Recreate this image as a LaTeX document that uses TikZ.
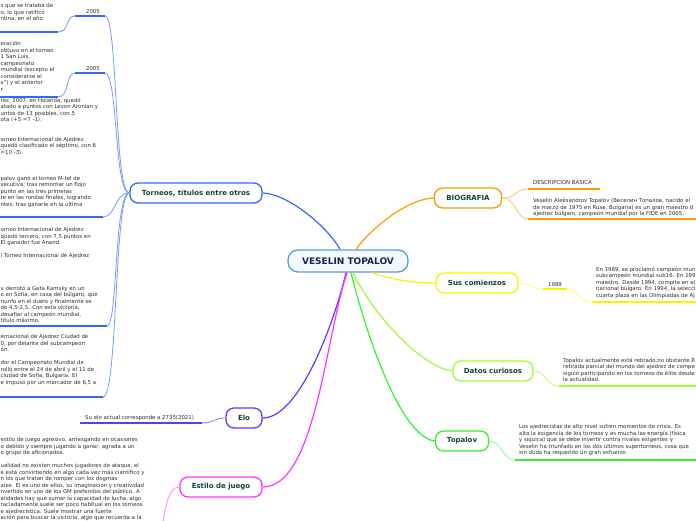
\documentclass[tikz,border=0pt]{standalone}
\usepackage{fontspec}
\setmainfont{DejaVu Sans}
\definecolor{vtborde}{HTML}{5B9BD5}
\definecolor{vtfondo}{HTML}{F3F8FD}
\definecolor{vttexto}{HTML}{17264A}
\definecolor{titulo}{HTML}{0E4436}
\definecolor{gris}{HTML}{2E2E2E}
\definecolor{torcol}{HTML}{3366FF}
\definecolor{torhilo}{HTML}{7799FF}
\definecolor{biocol}{HTML}{FF9900}
\definecolor{biohilo}{HTML}{FFC266}
\definecolor{suscol}{HTML}{F5F500}
\definecolor{sushilo}{HTML}{FFFF66}
\definecolor{datcol}{HTML}{99FF33}
\definecolor{dathilo}{HTML}{BBFF77}
\definecolor{topcol}{HTML}{33EE33}
\definecolor{tophilo}{HTML}{88FF88}
\definecolor{elocol}{HTML}{6633FF}
\definecolor{elohilo}{HTML}{9977FF}
\definecolor{estcol}{HTML}{FF33FF}
\definecolor{esthilo}{HTML}{FF88FF}
\begin{document}
\begin{tikzpicture}[x=1pt,y=-1pt,
  tema/.style={draw,line width=1.3pt,rounded corners=8pt,fill=white,
    minimum height=20pt,inner sep=0pt,text=titulo,
    font=\fontsize{7}{8}\selectfont\bfseries},
  texto/.style={inner sep=0pt,align=left,anchor=north west,text=gris,
    font=\fontsize{5.4}{6.5}\selectfont},
  rama/.style={line width=1.2pt},
  hilo/.style={line width=0.8pt},
  raya/.style={line width=2pt}]

\useasboundingbox (0,0) rectangle (696,520);

\node[tema,draw=vtborde,fill=vtfondo,minimum width=120pt,minimum height=22pt,
  rounded corners=10pt,text=vttexto,font=\fontsize{9}{10}\selectfont\bfseries]
  (vt) at (348,261) {VESELIN TOPALOV};

\node[tema,draw=torcol,minimum width=132pt] (tor) at (196,193) {Torneos, títulos entre otros};
\node[tema,draw=biocol,minimum width=67pt] (bio) at (468,198) {BIOGRAFIA};
\node[tema,draw=suscol,minimum width=82pt] (sus) at (477,283) {Sus comienzos};
\node[tema,draw=datcol,minimum width=80pt] (dat) at (493,371) {Datos curiosos};
\node[tema,draw=topcol,minimum width=53pt] (top) at (462,441) {Topalov};
\node[tema,draw=elocol,minimum width=36pt] (elo) at (244,418) {Elo};
\node[tema,draw=estcol,minimum width=82pt] (est) at (221,487) {Estilo de juego};

\draw[rama,torcol] ([xshift=-8pt]vt.north) .. controls (330,230) and (290,194) .. (tor.east);
\draw[rama,biocol] ([xshift=8pt]vt.north) .. controls (368,232) and (405,199) .. (bio.west);
\draw[rama,suscol] ([xshift=25pt]vt.south) .. controls (388,279) and (412,283) .. (sus.west);
\draw[rama,datcol] ([xshift=5pt]vt.south) .. controls (370,310) and (420,367) .. (dat.west);
\draw[rama,topcol] ([xshift=3pt]vt.south) .. controls (365,330) and (400,437) .. (top.west);
\draw[rama,elocol] ([xshift=-2pt]vt.south) .. controls (335,320) and (300,418) .. (elo.east);
\draw[rama,estcol] ([xshift=-1pt]vt.south) .. controls (325,340) and (315,487) .. (est.east);

% biografia
\coordinate (bio1) at (528,189);
\coordinate (bio1f) at (600,189);
\coordinate (bio2) at (528,219);
\coordinate (bio2f) at (700,219);
\draw[hilo,biohilo] (bio.east) .. controls (516,198) and (516,189) .. (bio1);
\draw[hilo,biohilo] (bio.east) .. controls (516,198) and (516,219) .. (bio2);
\draw[raya,biocol] (bio1) -- (bio1f);
\draw[raya,biocol] (bio2) -- (bio2f);
\node[texto] (bio1t) at (533,180.5) {DESCRIPCION BASICA};
\node[texto] (bio2t) at (533,198.3) {Veselin Aleksandrov Topalov (Веселин Топалов, nacido el\\
de marzo de 1975 en Ruse, Bulgaria) es un gran maestro d\\
ajedrez búlgaro, campeón mundial por la FIDE en 2005.};

% sus comienzos
\coordinate (sus1) at (543,289);
\coordinate (sus1f) at (567,289);
\coordinate (sus2) at (592,302);
\coordinate (sus2f) at (700,302);
\draw[hilo,sushilo] (sus.east) .. controls (531,283) and (530,289) .. (sus1);
\draw[raya,suscol] (sus1) -- (sus1f);
\node[texto,anchor=south] (sus1t) at (555,287) {1989};
\draw[hilo,sushilo] (sus1f) .. controls (580,289) and (578,302) .. (sus2);
\draw[raya,suscol] (sus2) -- (sus2f);
\node[texto] (sus2t) at (596,266.5) {En 1989, se proclamó campeón mun\\
subcampeón mundial sub16. En 199\\
maestro. Desde 1994, compite en el\\
nacional búlgaro. En 1994, la selecci\\
cuarta plaza en las Olimpiadas de Aj};

% datos curiosos
\coordinate (dat1) at (559,386);
\coordinate (dat1f) at (700,386);
\draw[hilo,dathilo] (dat.east) .. controls (546,371) and (546,386) .. (dat1);
\draw[raya,datcol] (dat1) -- (dat1f);
\node[texto] (dat1t) at (563,357.5) {Topalov actualmente está retirado,no obstante R\\
retirada parcial del mundo del ajedrez de compe\\
siguió participando en los torneos de élite desde\\
la actualidad.};

% topalov
\coordinate (top1) at (515,460);
\coordinate (top1f) at (700,460);
\draw[hilo,tophilo] (top.east) .. controls (502,441) and (502,460) .. (top1);
\draw[raya,topcol] (top1) -- (top1f);
\node[texto] (top1t) at (519,424.5) {Los ajedrecistas de alto nivel sufren momentos de crisis. Es\\
alta la exigencia de los torneos y es mucha las energía (física\\
y síquica) que se debe invertir contra rivales exigentes y\\
Veselin ha triunfado en los dos últimos supertorneos, cosa que\\
sin duda ha requerido un gran esfuerzo};

% elo
\coordinate (elo1) at (202,423);
\coordinate (elo1f) at (80,423);
\draw[hilo,elohilo] (elo.west) .. controls (214,418) and (214,423) .. (elo1);
\draw[raya,elocol] (elo1) -- (elo1f);
\node[texto,anchor=base west] (elo1t) at (85,419) {Su elo actual corresponde a 2735(2021)};

% estilo de juego
\coordinate (est1) at (162,530);
\draw[hilo,esthilo] (est.west) .. controls (170,487) and (166,500) .. (est1);
\node[texto] (est1t) at (0.5,437.5) {estilo de juego agresivo, arriesgando en ocasiones\\
o debido y siempre jugando a ganar, agrada a un\\
o grupo de aficionados.\\[6.5pt]
ualidad no existen muchos jugadores de ataque, el\\
e está convirtiendo en algo cada vez más científico y\\
n los que tratan de romper con los dogmas\\
ales. El es uno de ellos, su imaginación y creatividad\\
nvertido en uno de los GM preferidos del público. A\\
alidades hay que sumar la capacidad de lucha, algo\\
raciadamente suele ser poco habitual en los torneos\\
e ajedrecística. Suele mostrar una fuerte\\
ación para buscar la victoria, algo que recuerda a la};

% torneos
\coordinate (ta1) at (105,16);
\coordinate (ta1i) at (75,16);
\coordinate (ta2) at (58,32);
\coordinate (ta2i) at (-5,32);
\coordinate (tb1) at (105,73);
\coordinate (tb1i) at (75,73);
\coordinate (tb2) at (58,97);
\coordinate (tb2i) at (-5,97);
\coordinate (tc) at (103,217);
\coordinate (tci) at (-5,217);
\coordinate (td) at (107,326);
\coordinate (tdi) at (-5,326);
\coordinate (te) at (103,397);
\coordinate (tei) at (-5,397);

\draw[hilo,torhilo] (tor.west) .. controls (114,193) and (118,16) .. (ta1);
\draw[hilo,torhilo] (tor.west) .. controls (114,193) and (118,73) .. (tb1);
\draw[hilo,torhilo] (tor.west) .. controls (114,193) and (116,217) .. (tc);
\draw[hilo,torhilo] (tor.west) .. controls (114,193) and (118,326) .. (td);
\draw[hilo,torhilo] (tor.west) .. controls (114,193) and (118,397) .. (te);
\draw[hilo,torhilo] (ta1i) .. controls (65,16) and (70,32) .. (ta2);
\draw[hilo,torhilo] (tb1i) .. controls (65,73) and (70,97) .. (tb2);
\draw[raya,torcol] (ta1) -- (ta1i);
\draw[raya,torcol] (ta2) -- (ta2i);
\draw[raya,torcol] (tb1) -- (tb1i);
\draw[raya,torcol] (tb2) -- (tb2i);
\draw[raya,torcol] (tc) -- (tci);
\draw[raya,torcol] (td) -- (tdi);
\draw[raya,torcol] (te) -- (tei);

\node[texto,anchor=south] (ta1t) at (93,14) {2005};
\node[texto,anchor=south] (tb1t) at (93,71) {2005};
\node[texto] (ta2t) at (0.5,3.5) {s que se trataba de\\
o, lo que ratificó\\
ntina, en el año};
\node[texto] (tb2t) at (0.5,41) {eración\\
obtuvo en el torneo\\
1 San Luis,\\
campeonato\\
mundial (excepto el\\
considerarse el\\
s") y el anterior\\
r.};
\node[texto] (tct) at (0.5,97.5) {rez, 2007, en Holanda, quedó\\
atado a puntos con Levon Aronian y\\
untos de 13 posibles, con 5\\
ota (+5 =7 -1).\\[13pt]
orneo Internacional de Ajedrez\\
quedó clasificado el séptimo, con 6\\
=10 -3).\\[19.5pt]
palov ganó el torneo M-tel de\\
secutiva; tras remontar un flojo\\
punto en las tres primeras\\
te en las rondas finales, logrando\\
ntes, tras ganarle en la última};
\node[texto] (tdt) at (0.5,227.5) {orneo Internacional de Ajedrez\\
quedó tercero, con 7,5 puntos en\\
El ganador fue Anand.\\[6.5pt]
l Torneo Internacional de Ajedrez\\[26pt]
v derrotó a Gata Kamsky en un\\
o en Sofía, en casa del búlgaro, que\\
riunfo en el duelo y finalmente se\\
de 4,5-2,5. Con esta victoria,\\
desafiar al campeón mundial,\\
título máximo.};
\node[texto] (tet) at (0.5,334.5) {ernacional de Ajedrez Ciudad de\\
0, por delante del subcampeón\\
ón.\\[6.5pt]
dor el Campeonato Mundial de\\
rolló entre el 24 de abril y el 11 de\\
ciudad de Sofía, Bulgaria. El\\
e impuso por un marcador de 6,5 a};

\end{tikzpicture}
\end{document}
